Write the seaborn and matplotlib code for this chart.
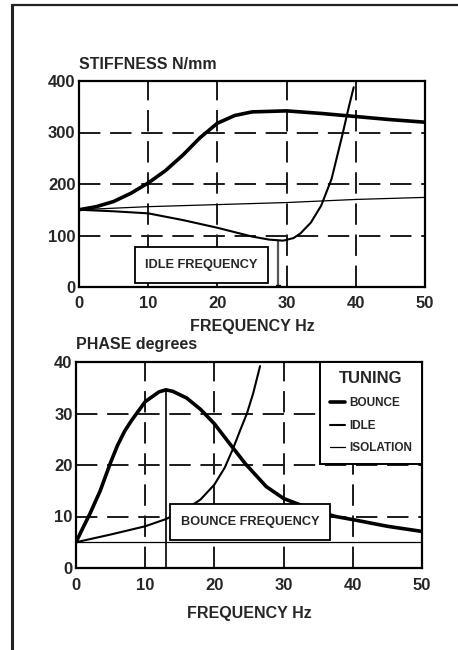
import matplotlib
matplotlib.use("Agg")
import matplotlib.pyplot as plt
from matplotlib.lines import Line2D
from matplotlib.patches import Rectangle
import seaborn as sns
import pandas as pd

# ---------------- data ----------------
# Top panel: stiffness N/mm vs frequency Hz
stiff_bounce_f = [0, 2.5, 5, 7.5, 10, 12.5, 15, 17.5, 20, 22.5, 25, 30, 35, 40, 45, 50]
stiff_bounce_k = [150, 156, 166, 182, 202, 226, 256, 290, 318, 333, 340, 342, 337, 331, 325, 320]
stiff_idle_f = [0, 5, 10, 15, 20, 25, 27.5, 29.5, 31, 32, 33.5, 35, 36.5, 38, 39, 39.7]
stiff_idle_k = [150, 147, 143, 130, 115, 98, 92, 90, 95, 104, 125, 158, 210, 292, 350, 388]
stiff_iso_f = [0, 10, 20, 30, 40, 50]
stiff_iso_k = [150, 156, 160, 164, 170, 174]

# Bottom panel: phase degrees vs frequency Hz
phase_bounce_f = [0, 1, 2, 3.5, 5, 6, 7, 8, 10, 12, 13, 14, 16, 18, 20, 22, 24.5,
                  27.5, 30, 32.5, 35, 37.5, 40, 45, 50]
phase_bounce_v = [5, 7.8, 10.5, 15, 20.5, 23.8, 26.5, 28.6, 32.3, 34.2, 34.6, 34.3,
                  33, 30.8, 28, 24.5, 20.2, 15.8, 13.5, 12.2, 11, 10, 9.4, 8.1, 7.1]
phase_idle_f = [0, 5, 10, 13, 16, 18, 20, 21.5, 22.7, 23.8, 24.7, 25.6, 26.6]
phase_idle_v = [5, 6.5, 8.1, 9.5, 11.5, 13.3, 16.2, 19.5, 23.2, 27, 30, 33.9, 39.2]
phase_iso_f = [0, 50]
phase_iso_v = [5, 5]

idle_frequency = 28.8
idle_freq_stiffness = 90
bounce_frequency = 13
bounce_freq_phase = 34.6

x_ticks = [0, 10, 20, 30, 40, 50]
stiff_ticks = [0, 100, 200, 300, 400]
phase_ticks = [0, 10, 20, 30, 40]
series_names = ["BOUNCE", "IDLE", "ISOLATION"]
series_widths = [2.6, 1.5, 0.9]

# ---------------- style ----------------
sns.set_style("white")
plt.rcParams["font.family"] = ["Liberation Sans", "DejaVu Sans"]
plt.rcParams["font.weight"] = "bold"

fig = plt.figure(figsize=(4.58, 6.5), dpi=100)
ax1 = fig.add_axes([79 / 458, 1 - 287 / 650, 346 / 458, 206 / 650])
ax2 = fig.add_axes([76 / 458, 1 - 568 / 650, 346 / 458, 206 / 650])

dash = (0, (11, 5))


def style_axes(ax, yticks, ymax, xpad, labelpad):
    ax.set_xlim(0, 50)
    ax.set_ylim(0, ymax)
    ax.set_xticks(x_ticks)
    ax.set_yticks(yticks)
    ax.set_xticklabels([str(t) for t in x_ticks], fontsize=12, fontweight="bold")
    ax.set_yticklabels([str(t) for t in yticks], fontsize=12, fontweight="bold")
    ax.tick_params(axis="both", length=0)
    ax.tick_params(axis="x", pad=xpad)
    ax.tick_params(axis="y", pad=2.5)
    ax.grid(True, color="#1a1a1a", linestyle=dash, linewidth=1.4)
    for s in ax.spines.values():
        s.set_color("black")
        s.set_linewidth(1.6)
        s.set_visible(True)
    ax.set_xlabel("FREQUENCY Hz", fontsize=11.5, fontweight="bold", labelpad=labelpad)
    ax.set_ylabel("")


# ---------------- top panel ----------------
top_sets = [(stiff_bounce_f, stiff_bounce_k), (stiff_idle_f, stiff_idle_k),
            (stiff_iso_f, stiff_iso_k)]
for (fx, fy), w in zip(top_sets, series_widths):
    sns.lineplot(x=fx, y=fy, ax=ax1, color="black", linewidth=w, legend=False,
                 sort=False, zorder=3)
style_axes(ax1, stiff_ticks, 400, 6.5, 6)
ax1.vlines(idle_frequency, 0, idle_freq_stiffness, color="#555555", linewidth=1.6, zorder=2)
ax1.plot([idle_frequency], [0], marker="s", markersize=3, color="black", zorder=4)
ax1.add_patch(Rectangle((8.1, 7.8), 19.2, 69.9, facecolor="white", edgecolor="black",
                        linewidth=1.3, zorder=5))
ax1.text(17.7, 42.7, "IDLE FREQUENCY", ha="center", va="center", fontsize=9.2,
         fontweight="bold", zorder=6)
ax1.text(0.0, 1.078, "STIFFNESS N/mm", transform=ax1.transAxes, ha="left", va="center",
         fontsize=11.5, fontweight="bold")

# ---------------- bottom panel ----------------
bot_sets = [(phase_bounce_f, phase_bounce_v), (phase_idle_f, phase_idle_v),
            (phase_iso_f, phase_iso_v)]
for (fx, fy), w in zip(bot_sets, series_widths):
    sns.lineplot(x=fx, y=fy, ax=ax2, color="black", linewidth=w, legend=False,
                 sort=False, zorder=3)
style_axes(ax2, phase_ticks, 40, 7.5, 9)
ax2.vlines(bounce_frequency, 0, bounce_freq_phase, color="black", linewidth=1.2, zorder=2)
ax2.add_patch(Rectangle((13.6, 5.4), 23.1, 7.0, facecolor="white", edgecolor="black",
                        linewidth=1.3, zorder=5))
ax2.text(25.15, 8.9, "BOUNCE FREQUENCY", ha="center", va="center", fontsize=9.2,
         fontweight="bold", zorder=6)
ax2.text(0.0, 1.083, "PHASE degrees", transform=ax2.transAxes, ha="left", va="center",
         fontsize=11.5, fontweight="bold")

handles = [Line2D([], [], color="black", linewidth=w) for w in series_widths]
leg = ax2.legend(handles, series_names, title="TUNING", loc="upper right",
                 borderaxespad=0, handlelength=1.3, handletextpad=0.4,
                 labelspacing=0.9, borderpad=0.8, fancybox=False, framealpha=1,
                 edgecolor="black", title_fontproperties={"size": 12, "weight": "bold"},
                 prop={"size": 8.5, "weight": "bold"})
leg.get_frame().set_linewidth(1.4)
leg.set_zorder(10)

# ---------------- page frame ----------------
fig.add_artist(Line2D([12 / 458, 12 / 458], [0, 1 - 5 / 650], transform=fig.transFigure,
                      color="#222222", linewidth=2.2))
fig.add_artist(Line2D([12 / 458, 1], [1 - 5 / 650, 1 - 5 / 650], transform=fig.transFigure,
                      color="#222222", linewidth=1.6))

fig.savefig("out.png", dpi=100, facecolor="white")
